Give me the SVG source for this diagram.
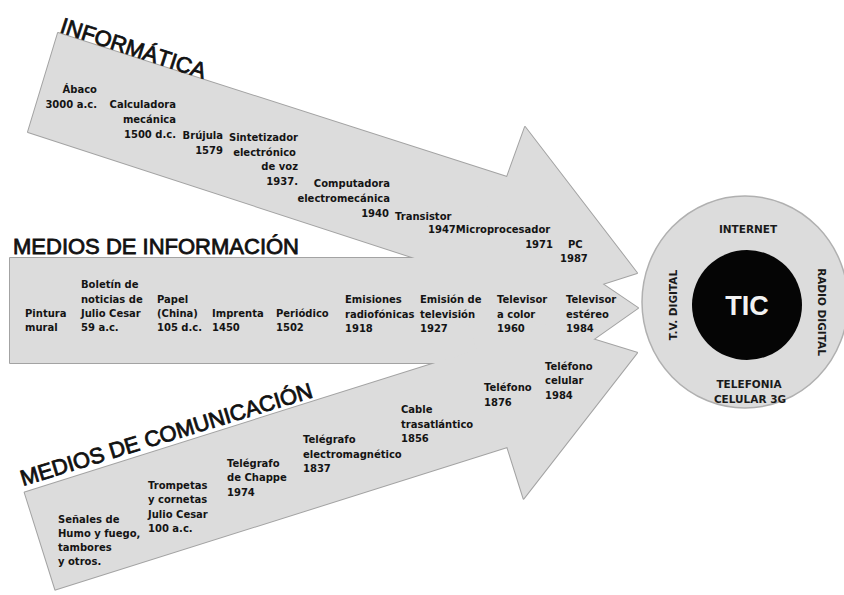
<svg xmlns="http://www.w3.org/2000/svg" width="844" height="595" viewBox="0 0 844 595">
<style>
.ol{fill:#dcdcdc;stroke:#a3a3a3;stroke-width:2;stroke-linejoin:round}
.fl{fill:#dcdcdc;stroke:none}
.t{font-family:"DejaVu Sans","Verdana",sans-serif;font-weight:bold;font-size:10px;fill:#141414}
.e{text-anchor:end}
.h{font-family:"Liberation Sans",Arial,sans-serif;font-size:22px;fill:#111;stroke:#111;stroke-width:0.8}
.c{font-family:"DejaVu Sans",sans-serif;font-weight:bold;font-size:10.5px;fill:#1a1a1a;text-anchor:middle}
</style>
<rect width="844" height="595" fill="#ffffff"/>
<g id="connectors">
<polygon class="ol" points="58,33 507,177 525,127 637,273 459,330 476,278 28,132"/>
<polygon class="ol" points="10,258 486,258 486,205 638,308 486,415 486,363 10,363"/>
<polygon class="ol" points="24.7,492.4 476.7,349.9 460.4,298.4 637,352.8 523.6,498.6 507.3,447.1 55.3,589.6"/>
<polygon class="fl" points="58,33 507,177 525,127 637,273 459,330 476,278 28,132"/>
<polygon class="fl" points="10,258 486,258 486,205 638,308 486,415 486,363 10,363"/>
<polygon class="fl" points="24.7,492.4 476.7,349.9 460.4,298.4 637,352.8 523.6,498.6 507.3,447.1 55.3,589.6"/>
</g>
<g id="informatica">
<text class="h" transform="translate(59,32) rotate(18)" font-size="21">INFORMÁTICA</text>
<text class="t e" x="97" y="93">Ábaco</text>
<text class="t e" x="97" y="108">3000 a.c.</text>
<text class="t e" x="176" y="108">Calculadora</text>
<text class="t e" x="176" y="123">mecánica</text>
<text class="t e" x="176" y="138">1500 d.c.</text>
<text class="t e" x="223" y="139">Brújula</text>
<text class="t e" x="223" y="154">1579</text>
<text class="t e" x="298" y="141">Sintetizador</text>
<text class="t e" x="296" y="156">electrónico</text>
<text class="t e" x="298" y="170">de voz</text>
<text class="t e" x="298" y="185">1937.</text>
<text class="t e" x="390" y="187">Computadora</text>
<text class="t e" x="390" y="202">electromecánica</text>
<text class="t e" x="389" y="217">1940</text>
<text class="t" x="395" y="220">Transistor</text>
<text class="t" x="428" y="233">1947Microprocesador</text>
<text class="t e" x="553" y="248">1971</text>
<text class="t" x="568" y="248">PC</text>
<text class="t" x="560" y="262">1987</text>
</g>
<g id="medios-informacion">
<text class="h" x="13" y="254">MEDIOS DE INFORMACIÓN</text>
<text class="t" x="25" y="317">Pintura</text>
<text class="t" x="25" y="331">mural</text>
<text class="t" x="81" y="288">Boletín de</text>
<text class="t" x="81" y="303">noticias de</text>
<text class="t" x="81" y="317">Julio Cesar</text>
<text class="t" x="81" y="331">59 a.c.</text>
<text class="t" x="157" y="303">Papel</text>
<text class="t" x="157" y="317">(China)</text>
<text class="t" x="157" y="331">105 d.c.</text>
<text class="t" x="212" y="317">Imprenta</text>
<text class="t" x="212" y="331">1450</text>
<text class="t" x="276" y="317">Periódico</text>
<text class="t" x="276" y="331">1502</text>
<text class="t" x="345" y="303">Emisiones</text>
<text class="t" x="345" y="318">radiofónicas</text>
<text class="t" x="345" y="332">1918</text>
<text class="t" x="420" y="303">Emisión de</text>
<text class="t" x="420" y="318">televisión</text>
<text class="t" x="420" y="332">1927</text>
<text class="t" x="497" y="303">Televisor</text>
<text class="t" x="497" y="318">a color</text>
<text class="t" x="497" y="332">1960</text>
<text class="t" x="566" y="303">Televisor</text>
<text class="t" x="566" y="318">estéreo</text>
<text class="t" x="566" y="332">1984</text>
</g>
<g id="medios-comunicacion">
<text class="h" transform="translate(23,486) rotate(-17)" font-size="21">MEDIOS DE COMUNICACIÓN</text>
<text class="t" x="58" y="523">Señales de</text>
<text class="t" x="58" y="537">Humo y fuego,</text>
<text class="t" x="58" y="551">tambores</text>
<text class="t" x="58" y="565">y otros.</text>
<text class="t" x="148" y="489">Trompetas</text>
<text class="t" x="148" y="503">y cornetas</text>
<text class="t" x="148" y="518">Julio Cesar</text>
<text class="t" x="148" y="532">100 a.c.</text>
<text class="t" x="227" y="467">Telégrafo</text>
<text class="t" x="227" y="481">de Chappe</text>
<text class="t" x="227" y="496">1974</text>
<text class="t" x="303" y="443">Telégrafo</text>
<text class="t" x="303" y="458">electromagnético</text>
<text class="t" x="303" y="472">1837</text>
<text class="t" x="401" y="413">Cable</text>
<text class="t" x="401" y="428">trasatlántico</text>
<text class="t" x="401" y="442">1856</text>
<text class="t" x="484" y="391">Teléfono</text>
<text class="t" x="484" y="406">1876</text>
<text class="t" x="545" y="370">Teléfono</text>
<text class="t" x="545" y="384">celular</text>
<text class="t" x="545" y="399">1984</text>
</g>
<g id="tic">
<ellipse cx="745" cy="302" rx="103" ry="106" fill="#dcdcdc" stroke="#b0b0b0" stroke-width="1.5"/>
<ellipse cx="747" cy="305" rx="55" ry="55" fill="#050505"/>
<text x="747" y="315" font-family="Liberation Sans,Arial,sans-serif" font-weight="bold" font-size="27" fill="#f2f2f2" text-anchor="middle">TIC</text>
<text class="c" x="748" y="233">INTERNET</text>
<text class="c" x="749" y="388">TELEFONIA</text>
<text class="c" x="750" y="403">CELULAR 3G</text>
<text class="c" transform="translate(677,305) rotate(-90)">T.V. DIGITAL</text>
<text class="c" transform="translate(818,312) rotate(90)">RADIO DIGITAL</text>
</g>
</svg>
